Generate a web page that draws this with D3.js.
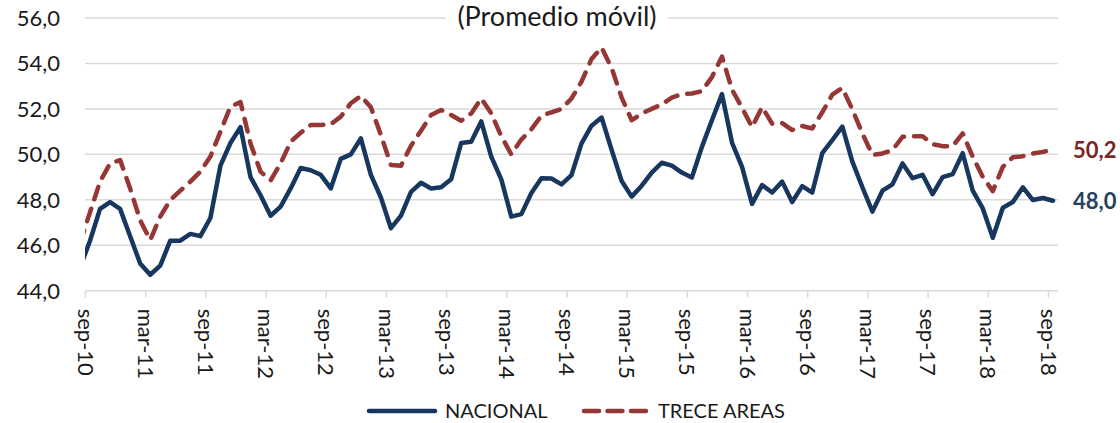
<!DOCTYPE html>
<html>
<head>
<meta charset="utf-8">
<script src="https://cdn.jsdelivr.net/npm/d3@7"></script>
<style>
  body { margin: 0; background: #fff; }
  svg { display: block; font-family: Lato, "Open Sans", sans-serif; }
</style>
</head>
<body>
<div id="chart"></div>
<script>
// months, ago-10 is only the lead-in that gets clipped at the left edge
var months = [
  "ago-10", "sep-10", "oct-10", "nov-10", "dic-10",
  "ene-11", "feb-11", "mar-11", "abr-11", "may-11", "jun-11", "jul-11", "ago-11", "sep-11", "oct-11", "nov-11", "dic-11",
  "ene-12", "feb-12", "mar-12", "abr-12", "may-12", "jun-12", "jul-12", "ago-12", "sep-12", "oct-12", "nov-12", "dic-12",
  "ene-13", "feb-13", "mar-13", "abr-13", "may-13", "jun-13", "jul-13", "ago-13", "sep-13", "oct-13", "nov-13", "dic-13",
  "ene-14", "feb-14", "mar-14", "abr-14", "may-14", "jun-14", "jul-14", "ago-14", "sep-14", "oct-14", "nov-14", "dic-14",
  "ene-15", "feb-15", "mar-15", "abr-15", "may-15", "jun-15", "jul-15", "ago-15", "sep-15", "oct-15", "nov-15", "dic-15",
  "ene-16", "feb-16", "mar-16", "abr-16", "may-16", "jun-16", "jul-16", "ago-16", "sep-16", "oct-16", "nov-16", "dic-16",
  "ene-17", "feb-17", "mar-17", "abr-17", "may-17", "jun-17", "jul-17", "ago-17", "sep-17", "oct-17", "nov-17", "dic-17",
  "ene-18", "feb-18", "mar-18", "abr-18", "may-18", "jun-18", "jul-18", "ago-18", "sep-18"
];

var nacional = [
  45.0, 46.2, 47.6, 47.9, 47.6,
  46.4, 45.2, 44.7, 45.1, 46.2, 46.2, 46.5, 46.4, 47.2, 49.5, 50.5, 51.2,
  49.0, 48.2, 47.3, 47.7, 48.5, 49.4, 49.3, 49.1, 48.5, 49.8, 50.0, 50.7,
  49.1, 48.1, 46.75, 47.3, 48.35, 48.75, 48.5, 48.55, 48.9, 50.5, 50.55, 51.45,
  49.9, 48.9, 47.26, 47.37, 48.3, 48.95, 48.94, 48.68, 49.09, 50.48, 51.26, 51.62,
  50.2, 48.83, 48.14, 48.62, 49.2, 49.63, 49.5, 49.2, 48.98, 50.33, 51.5, 52.65,
  50.52, 49.45, 47.82, 48.65, 48.32, 48.8, 47.9, 48.6, 48.32, 50.05, 50.63, 51.22,
  49.68, 48.55, 47.48, 48.4, 48.68, 49.6, 48.95, 49.1, 48.25, 49.0, 49.13, 50.05,
  48.4, 47.62, 46.33, 47.65, 47.9, 48.55, 47.99, 48.08, 47.96
];

var treceAreas = [
  46.1, 47.45, 48.8, 49.6, 49.75,
  48.5, 47.1, 46.23, 47.26, 47.99, 48.4, 48.8, 49.24, 49.9, 51.0, 52.1, 52.3,
  50.48, 49.24, 48.85, 49.6, 50.55, 50.95, 51.29, 51.29, 51.32, 51.66, 52.25, 52.57,
  52.07, 50.85, 49.53, 49.5, 50.38, 51.04, 51.73, 51.95, 51.73, 51.48, 51.8, 52.46,
  51.8, 50.8, 50.0, 50.65, 51.1, 51.7, 51.85, 52.0, 52.46, 53.2, 54.2, 54.7,
  53.8, 52.5, 51.5, 51.8, 52.0, 52.2, 52.5, 52.65, 52.68, 52.78, 53.4, 54.3,
  52.85, 52.05, 51.2, 52.08, 51.35, 51.38, 51.07, 51.25, 51.14, 51.85, 52.63, 52.92,
  51.98, 50.92, 49.97, 50.04, 50.19, 50.77, 50.8, 50.8, 50.45, 50.36, 50.36, 50.92,
  49.89, 49.01, 48.38, 49.45, 49.87, 49.92, 50.04, 50.11, 50.19
];

var tickLabels = ["sep-10", "mar-11", "sep-11", "mar-12", "sep-12", "mar-13", "sep-13", "mar-14",
  "sep-14", "mar-15", "sep-15", "mar-16", "sep-16", "mar-17", "sep-17", "mar-18", "sep-18"];
var yTicks = [44, 46, 48, 50, 52, 54, 56];
var seriesNames = ["NACIONAL", "TRECE AREAS"];

var width = 1120, height = 423;
var plot = {left: 85, right: 1058, top: 18, bottom: 290.7};

var navy = "#17375e", red = "#953735";

var es = d3.formatLocale({decimal: ",", thousands: ".", grouping: [3], currency: ["", ""]});
var fmt = es.format(".1f");

// category index: sep-10 = 0, ago-10 = -1 (lead-in)
var idx = function(i) { return i - 1; };

var xScale = d3.scaleLinear().domain([-0.5, months.length - 1.5]).range([plot.left, plot.right]);
var yScale = d3.scaleLinear().domain([44, 56]).range([plot.bottom, plot.top]);

var svg = d3.select("#chart").append("svg")
  .attr("width", width)
  .attr("height", height);

svg.append("defs").append("clipPath")
  .attr("id", "plotclip")
  .append("rect")
  .attr("x", plot.left)
  .attr("y", 0)
  .attr("width", plot.right - plot.left)
  .attr("height", height);

// gridlines
svg.append("g")
  .selectAll("line")
  .data(yTicks)
  .enter().append("line")
  .attr("x1", plot.left)
  .attr("x2", plot.right)
  .attr("y1", function(d) { return yScale(d); })
  .attr("y2", function(d) { return yScale(d); })
  .attr("stroke", "#d9d9d9")
  .attr("stroke-width", 1.5);

// y labels
svg.append("g")
  .selectAll("text")
  .data(yTicks)
  .enter().append("text")
  .attr("x", 60)
  .attr("y", function(d) { return yScale(d); })
  .attr("dy", "0.36em")
  .attr("text-anchor", "end")
  .style("font-size", "22px")
  .style("fill", "#1a1a1a")
  .text(function(d) { return fmt(d); });

// x axis: ticks on category boundaries every 6 months
var tickVals = tickLabels.map(function(d, k) { return k * 6 - 0.5; });
var xAxis = svg.append("g")
  .attr("transform", "translate(0," + plot.bottom + ")")
  .call(d3.axisBottom(xScale)
    .tickValues(tickVals)
    .tickSize(7)
    .tickSizeOuter(0)
    .tickFormat(function(d, k) { return tickLabels[k]; }));
xAxis.select(".domain").remove();
xAxis.selectAll("line").attr("stroke", "#d9d9d9").attr("stroke-width", 1.5);
xAxis.selectAll("text")
  .attr("transform", "rotate(90)")
  .attr("x", 18)
  .attr("y", 0)
  .attr("dy", "0.36em")
  .style("text-anchor", "start")
  .style("font-family", "Lato, sans-serif")
  .style("font-size", "22px")
  .style("fill", "#1a1a1a");

// title sits on a white box over the top gridline
svg.append("rect")
  .attr("x", 446)
  .attr("y", 0)
  .attr("width", 222)
  .attr("height", 28)
  .attr("fill", "#fff");
svg.append("text")
  .attr("x", 557)
  .attr("y", 26)
  .attr("text-anchor", "middle")
  .style("font-size", "27px")
  .style("fill", "#1a1a1a")
  .text("(Promedio móvil)");

// lines
var line = function(values) {
  return d3.line()
    .x(function(d, i) { return xScale(idx(i)); })
    .y(function(d) { return yScale(d); })(values);
};

var lines = svg.append("g").attr("clip-path", "url(#plotclip)");
lines.append("path")
  .attr("d", line(treceAreas))
  .attr("fill", "none")
  .attr("stroke", red)
  .attr("stroke-width", 4.5)
  .attr("stroke-dasharray", "13,10")
  .attr("stroke-linecap", "round")
  .attr("stroke-linejoin", "round");
lines.append("path")
  .attr("d", line(nacional))
  .attr("fill", "none")
  .attr("stroke", navy)
  .attr("stroke-width", 4.5)
  .attr("stroke-linecap", "round")
  .attr("stroke-linejoin", "round");

// end labels
var last = months.length - 1;
svg.append("text")
  .attr("x", 1073)
  .attr("y", yScale(treceAreas[last]))
  .attr("dy", "0.36em")
  .style("font-size", "22px")
  .style("font-weight", "bold")
  .style("fill", "#7b2624")
  .text(fmt(treceAreas[last]));
svg.append("text")
  .attr("x", 1073)
  .attr("y", yScale(nacional[last]))
  .attr("dy", "0.36em")
  .style("font-size", "22px")
  .style("font-weight", "bold")
  .style("fill", "#254061")
  .text(fmt(nacional[last]));

// legend
var ly = 411;
svg.append("line")
  .attr("x1", 369).attr("x2", 435)
  .attr("y1", ly).attr("y2", ly)
  .attr("stroke", navy)
  .attr("stroke-width", 4.5)
  .attr("stroke-linecap", "round");
svg.append("text")
  .attr("x", 445).attr("y", ly)
  .attr("dy", "0.36em")
  .style("font-size", "20px")
  .style("fill", "#1a1a1a")
  .text(seriesNames[0]);
svg.append("line")
  .attr("x1", 584).attr("x2", 646)
  .attr("y1", ly).attr("y2", ly)
  .attr("stroke", red)
  .attr("stroke-width", 4.5)
  .attr("stroke-dasharray", "15,8.5")
  .attr("stroke-linecap", "round");
svg.append("text")
  .attr("x", 658).attr("y", ly)
  .attr("dy", "0.36em")
  .style("font-size", "20px")
  .style("fill", "#1a1a1a")
  .text(seriesNames[1]);
</script>
</body>
</html>
